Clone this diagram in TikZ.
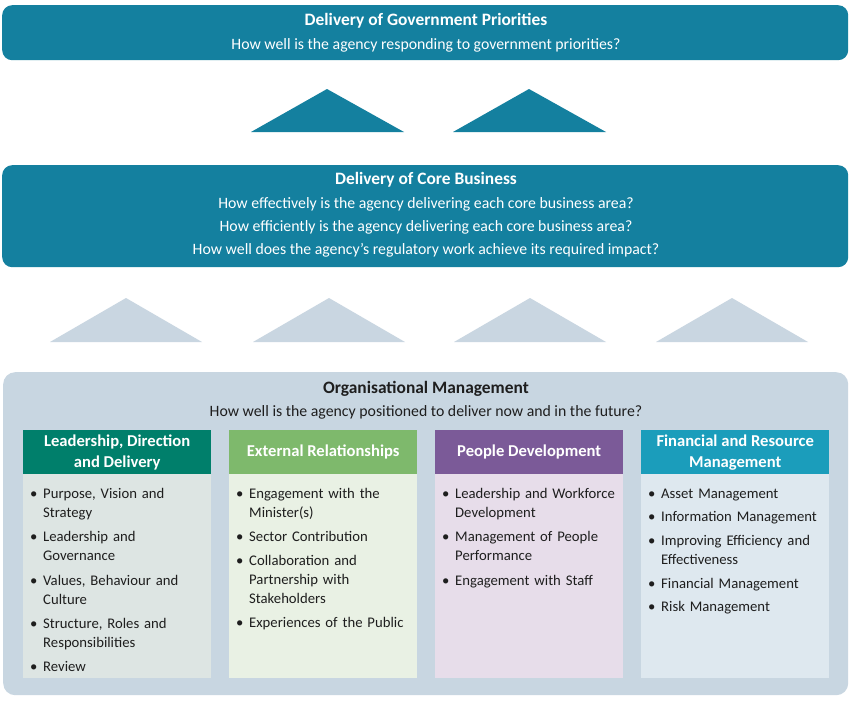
\documentclass[tikz,border=0pt]{standalone}
\usepackage{fontspec}
\setmainfont{Carlito}
\definecolor{govteal}{HTML}{14809F}
\definecolor{lightblue}{HTML}{C9D6E1}
\definecolor{orgbg}{HTML}{C8D6E1}
\definecolor{hOne}{HTML}{007F6B}
\definecolor{bOne}{HTML}{DDE5E3}
\definecolor{hTwo}{HTML}{7EB96C}
\definecolor{bTwo}{HTML}{E9F1E4}
\definecolor{hThree}{HTML}{7B5A98}
\definecolor{bThree}{HTML}{E7DDEA}
\definecolor{hFour}{HTML}{1B9DBB}
\definecolor{bFour}{HTML}{DEE8EF}
\definecolor{darktext}{HTML}{1E1E1E}
\newcommand\bitem[1]{\noindent\hbox to 7pt{}\makebox[13pt][l]{\textbullet}\begin{tabular}[t]{@{}l@{}}#1\end{tabular}\par}
\tikzset{
  panel/.style={inner sep=0pt, anchor=north west},
  ttl/.style={inner sep=0pt, anchor=base, font=\fontsize{17.4}{20}\selectfont\bfseries},
  sub/.style={inner sep=0pt, anchor=base, font=\fontsize{15.8}{19}\selectfont},
  hdr/.style={inner sep=0pt, align=center, text=white, font=\fontsize{16.6}{21}\selectfont\bfseries},
  lst/.style={inner sep=0pt, anchor=north west, text width=188pt, text=darktext,
    font=\fontsize{14.7}{19}\selectfont},
}
\begin{document}
\begin{tikzpicture}[x=1pt,y=-1pt]
\useasboundingbox (0,0) rectangle (850,701);
\fill[white] (0,0) rectangle (850,701);
% top box
\node[panel, fill=govteal, rounded corners=10pt, minimum width=846pt, minimum height=55pt] (gov) at (2,5) {};
\node[ttl, text=white] (govt) at (426,26) {Delivery of Government Priorities};
\node[sub, text=white] (govs) at (426,49) {How well is the agency responding to government priorities?};
% dark triangles
\fill[govteal] (251,132) -- (327,89) -- (404,132) -- cycle;
\fill[govteal] (453,132) -- (529,89) -- (606,132) -- cycle;
% core box
\node[panel, fill=govteal, rounded corners=10pt, minimum width=846pt, minimum height=102pt] (core) at (2,165) {};
\node[ttl, text=white] (coret) at (426,184) {Delivery of Core Business};
\node[sub, text=white] (core1) at (426,208) {How effectively is the agency delivering each core business area?};
\node[sub, text=white] (core2) at (426,231) {How efficiently is the agency delivering each core business area?};
\node[sub, text=white] (core3) at (426,254) {How well does the agency’s regulatory work achieve its required impact?};
% light triangles
\foreach \a in {126,329,530,732}{
  \fill[lightblue] (\a-76,342) -- (\a,298) -- (\a+76,342) -- cycle;
}
% org box
\node[panel, fill=orgbg, rounded corners=12pt, minimum width=845pt, minimum height=323pt] (org) at (3,372) {};
\node[ttl, text=darktext] (orgt) at (426,393) {Organisational Management};
\node[sub, text=darktext] (orgs) at (426,416) {How well is the agency positioned to deliver now and in the future?};
% columns
\node[panel, fill=hOne, minimum width=188pt, minimum height=44pt] (h1) at (23,430) {};
\node[panel, fill=bOne, minimum width=188pt, minimum height=204pt] (b1) at (23,474) {};
\node[panel, fill=hTwo, minimum width=188pt, minimum height=44pt] (h2) at (229,430) {};
\node[panel, fill=bTwo, minimum width=188pt, minimum height=204pt] (b2) at (229,474) {};
\node[panel, fill=hThree, minimum width=188pt, minimum height=44pt] (h3) at (435,430) {};
\node[panel, fill=bThree, minimum width=188pt, minimum height=204pt] (b3) at (435,474) {};
\node[panel, fill=hFour, minimum width=188pt, minimum height=44pt] (h4) at (641,430) {};
\node[panel, fill=bFour, minimum width=188pt, minimum height=204pt] (b4) at (641,474) {};
\node[hdr] (h1t) at (h1.center) {Leadership, Direction\\and Delivery};
\node[hdr] (h2t) at (h2.center) {External Relationships};
\node[hdr] (h3t) at (h3.center) {People Development};
\node[hdr] (h4t) at (h4.center) {Financial and Resource\\Management};
\node[lst] (l1) at (23,485) {\setlength\parskip{4.3pt}%
\bitem{Purpose, Vision and\\Strategy}
\bitem{Leadership and\\Governance}
\bitem{Values, Behaviour and\\Culture}
\bitem{Structure, Roles and\\Responsibilities}
\bitem{Review}};
\node[lst] (l2) at (229,485) {\setlength\parskip{4.3pt}%
\bitem{Engagement with the\\Minister(s)}
\bitem{Sector Contribution}
\bitem{Collaboration and\\Partnership with\\Stakeholders}
\bitem{Experiences of the Public}};
\node[lst] (l3) at (435,485) {\setlength\parskip{4.3pt}%
\bitem{Leadership and Workforce\\Development}
\bitem{Management of People\\Performance}
\bitem{Engagement with Staff}};
\node[lst] (l4) at (641,485) {\setlength\parskip{4.3pt}%
\bitem{Asset Management}
\bitem{Information Management}
\bitem{Improving Efficiency and\\Effectiveness}
\bitem{Financial Management}
\bitem{Risk Management}};
\end{tikzpicture}
\end{document}
